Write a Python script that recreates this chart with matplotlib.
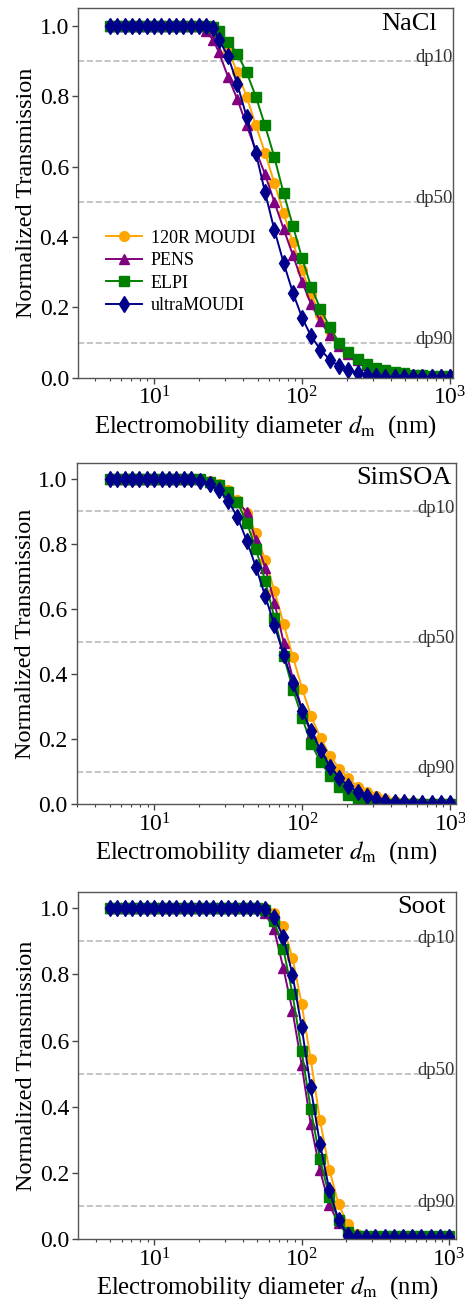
import matplotlib
matplotlib.use('Agg')
import matplotlib.pyplot as plt

plt.rcParams['font.family'] = ['Liberation Serif', 'DejaVu Serif']
plt.rcParams['mathtext.fontset'] = 'stix'

# diameters (nm) for each aerosol panel
nacl_d = [5.01, 5.62, 6.31, 7.08, 7.94, 8.91, 10.0, 11.2, 12.6, 14.1, 15.8, 17.8, 20.0, 22.4, 25.1,
          27.4, 31.6, 36.5, 42.2, 48.7, 56.2, 64.9, 75.0, 86.6, 100, 115, 133, 154, 178, 205,
          237, 274, 316, 365, 422, 487, 562, 649, 750, 866, 1000]
simsoa_d = [5.01, 5.62, 6.31, 7.08, 7.94, 8.91, 10.0, 11.2, 12.6, 14.1, 15.8, 17.8,
            20.5, 23.7, 27.4, 31.6, 36.5, 42.2, 48.7, 56.2, 64.9, 75.0, 86.6, 100, 115, 133, 154,
            178, 205, 237, 274, 316, 365, 422, 487, 562, 649, 750, 866, 1000]
soot_d = [5.01, 5.62, 6.31, 7.08, 7.94, 8.91, 10.0, 11.2, 12.6, 14.1, 15.8, 17.8, 20.0, 22.4, 25.1,
          28.2, 31.6, 35.5, 39.8, 44.7, 50.1,
          56.2, 64.9, 75.0, 86.6, 100, 115, 133, 154, 178, 205, 237, 274, 316, 365, 422, 487,
          562, 649, 750, 866, 1000]

# NaCl transmission
nacl_moudi = [1.0, 1.0, 1.0, 1.0, 1.0, 1.0, 1.0, 1.0, 1.0, 1.0, 1.0, 1.0, 1.0, 1.0, 0.99,
              0.97, 0.93, 0.869, 0.799, 0.717, 0.639, 0.554, 0.468, 0.385, 0.305, 0.238, 0.178,
              0.132, 0.098, 0.07, 0.05, 0.037, 0.027, 0.02, 0.015, 0.011, 0.009, 0.007, 0.006,
              0.005, 0.005]
nacl_pens = [1.0, 1.0, 1.0, 1.0, 1.0, 1.0, 1.0, 1.0, 1.0, 1.0, 1.0, 1.0, 1.0, 0.985, 0.96,
             0.925, 0.855, 0.792, 0.717, 0.646, 0.578, 0.50, 0.423, 0.349, 0.273, 0.209, 0.161,
             0.12, 0.09, 0.068, 0.05, 0.037, 0.028, 0.021, 0.016, 0.013, 0.011, 0.01, 0.01,
             0.01, 0.01]
nacl_elpi = [1.0, 1.0, 1.0, 1.0, 1.0, 1.0, 1.0, 1.0, 1.0, 1.0, 1.0, 1.0, 1.0, 1.0, 0.998,
             0.985, 0.955, 0.921, 0.868, 0.799, 0.717, 0.627, 0.525, 0.432, 0.34, 0.259, 0.196,
             0.143, 0.10, 0.074, 0.053, 0.038, 0.028, 0.021, 0.016, 0.012, 0.009, 0.007, 0.006,
             0.005, 0.005]
nacl_ultra = [1.0, 1.0, 1.0, 1.0, 1.0, 1.0, 1.0, 1.0, 1.0, 1.0, 1.0, 1.0, 1.0, 1.0, 0.995,
              0.96, 0.914, 0.834, 0.742, 0.639, 0.527, 0.421, 0.327, 0.242, 0.171, 0.118, 0.08,
              0.051, 0.032, 0.022, 0.013, 0.008, 0.005, 0.003, 0.002, 0.001, 0.001, 0.001, 0.001,
              0.001, 0.001]

# SimSOA transmission
soa_moudi = [1.0, 1.0, 1.0, 1.0, 1.0, 1.0, 1.0, 1.0, 1.0, 1.0, 1.0, 1.0,
             1.0, 0.995, 0.985, 0.965, 0.935, 0.895, 0.833, 0.75, 0.656, 0.553, 0.452, 0.355,
             0.27, 0.203, 0.149, 0.11, 0.08, 0.054, 0.039, 0.025, 0.016, 0.011, 0.008, 0.006,
             0.005, 0.004, 0.004, 0.004]
soa_pens = [1.0, 1.0, 1.0, 1.0, 1.0, 1.0, 1.0, 1.0, 1.0, 1.0, 1.0, 1.0,
            1.0, 0.99, 0.98, 0.96, 0.93, 0.897, 0.812, 0.727, 0.62, 0.496, 0.385, 0.29,
            0.215, 0.155, 0.105, 0.07, 0.045, 0.028, 0.017, 0.01, 0.006, 0.004, 0.003, 0.003,
            0.003, 0.003, 0.003, 0.003]
soa_elpi = [1.0, 1.0, 1.0, 1.0, 1.0, 1.0, 1.0, 1.0, 1.0, 1.0, 1.0, 1.0,
            1.0, 0.99, 0.98, 0.96, 0.928, 0.866, 0.784, 0.686, 0.573, 0.455, 0.352, 0.265,
            0.185, 0.131, 0.087, 0.054, 0.03, 0.015, 0.008, 0.004, 0.002, 0.001, 0.001, 0.001,
            0.001, 0.001, 0.001, 0.001]
soa_ultra = [1.0, 1.0, 1.0, 1.0, 1.0, 1.0, 1.0, 1.0, 1.0, 1.0, 1.0, 1.0,
             0.995, 0.985, 0.965, 0.933, 0.882, 0.81, 0.728, 0.64, 0.55, 0.458, 0.373, 0.286,
             0.226, 0.167, 0.116, 0.082, 0.056, 0.039, 0.025, 0.015, 0.011, 0.008, 0.006, 0.005,
             0.004, 0.004, 0.004, 0.004]

# Soot transmission
soot_moudi = [1.0, 1.0, 1.0, 1.0, 1.0, 1.0, 1.0, 1.0, 1.0, 1.0, 1.0, 1.0, 1.0, 1.0, 1.0,
              1.0, 1.0, 1.0, 1.0, 1.0, 1.0,
              1.0, 0.985, 0.945, 0.85, 0.71, 0.545, 0.36, 0.21, 0.105, 0.045, 0.016, 0.008, 0.005,
              0.005, 0.005, 0.005, 0.005, 0.005, 0.005, 0.005, 0.005]
soot_pens = [1.0, 1.0, 1.0, 1.0, 1.0, 1.0, 1.0, 1.0, 1.0, 1.0, 1.0, 1.0, 1.0, 1.0, 1.0,
             1.0, 1.0, 1.0, 1.0, 1.0, 1.0,
             0.985, 0.937, 0.82, 0.69, 0.525, 0.349, 0.208, 0.103, 0.047, 0.012, 0.006, 0.005,
             0.005, 0.005, 0.005, 0.005, 0.005, 0.005, 0.005, 0.005, 0.005]
soot_elpi = [1.0, 1.0, 1.0, 1.0, 1.0, 1.0, 1.0, 1.0, 1.0, 1.0, 1.0, 1.0, 1.0, 1.0, 1.0,
             1.0, 1.0, 1.0, 1.0, 1.0, 1.0,
             0.995, 0.96, 0.878, 0.741, 0.568, 0.394, 0.243, 0.128, 0.057, 0.022, 0.01, 0.01,
             0.01, 0.01, 0.01, 0.01, 0.01, 0.01, 0.01, 0.01, 0.01]
soot_ultra = [1.0, 1.0, 1.0, 1.0, 1.0, 1.0, 1.0, 1.0, 1.0, 1.0, 1.0, 1.0, 1.0, 1.0, 1.0,
              1.0, 1.0, 1.0, 1.0, 1.0, 1.0,
              0.997, 0.972, 0.914, 0.799, 0.64, 0.459, 0.288, 0.148, 0.057, 0.012, 0.005, 0.005,
              0.005, 0.005, 0.005, 0.005, 0.005, 0.005, 0.005, 0.005, 0.005]

instruments = ['120R MOUDI', 'PENS', 'ELPI', 'ultraMOUDI']
colors = ['orange', 'purple', 'green', 'darkblue']
markers = ['o', '^', 's', 'd']
cut_levels = [0.9, 0.5, 0.1]
cut_labels = ['dp10', 'dp50', 'dp90']

panels = [
    ('NaCl', nacl_d, [nacl_moudi, nacl_pens, nacl_elpi, nacl_ultra]),
    ('SimSOA', simsoa_d, [soa_moudi, soa_pens, soa_elpi, soa_ultra]),
    ('Soot', soot_d, [soot_moudi, soot_pens, soot_elpi, soot_ultra]),
]

# axes boxes in pixels (left, top, right, bottom) measured on the 465x1303 canvas
W, H = 465, 1303
boxes = [(78, 8.3, 453.3, 377.7), (76.7, 462.7, 456, 804.3), (78.3, 891.7, 456, 1239)]
xlims = [(3.06, 1052), (2.99, 1094), (3.05, 1114)]
name_x = [0.956, 0.989, 0.974]

fig = plt.figure(figsize=(W / 100, H / 100), dpi=100)

for i, (name, d, series) in enumerate(panels):
    l, t, r, b = boxes[i]
    ax = fig.add_axes([l / W, 1 - b / H, (r - l) / W, (b - t) / H])
    for y, c, m, lab in zip(series, colors, markers, instruments):
        ms = 8 if m == 'd' else 7
        ax.plot(d, y, color=c, marker=m, ms=ms, lw=1.4, label=lab)
    for lev, txt in zip(cut_levels, cut_labels):
        ax.axhline(lev, color='#bbbbbb', ls='--', lw=1.2, zorder=0)
        ax.text(0.998, lev - 0.004, txt, transform=ax.get_yaxis_transform(),
                ha='right', va='baseline', fontsize=13.5, color='#333333')
    ax.text(name_x[i], 0.988, name, transform=ax.transAxes, ha='right', va='top', fontsize=19)
    ax.set_xscale('log')
    ax.set_xlim(*xlims[i])
    ax.set_ylim(0, 1.05)
    ax.set_yticks([0.0, 0.2, 0.4, 0.6, 0.8, 1.0])
    ax.set_yticklabels(['0.0', '0.2', '0.4', '0.6', '0.8', '1.0'])
    ax.tick_params(labelsize=17, length=4, width=1, color='#444444', pad=2.5)
    ax.tick_params(which='minor', length=2.5, width=0.8, color='#444444')
    for s in ax.spines.values():
        s.set_color('#555555')
        s.set_linewidth(1.0)
    ax.set_ylabel('Normalized Transmission', fontsize=17.5, labelpad=2)
    ax.set_xlabel(r'Electromobility diameter $d_\mathrm{m}$  (nm)', fontsize=17.8, labelpad=2)
    if i == 0:
        ax.legend(loc='upper left', bbox_to_anchor=(0.055, 0.42), frameon=False, fontsize=13,
                  handlelength=2.0, handletextpad=0.5, labelspacing=0.3, borderaxespad=0)

fig.savefig('out.png', dpi=100)
